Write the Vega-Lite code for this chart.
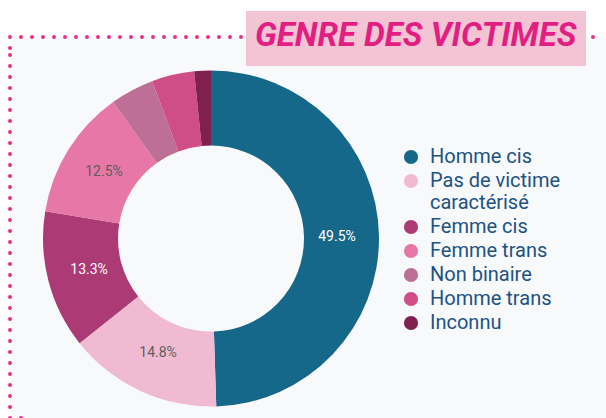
{
  "$schema": "https://vega.github.io/schema/vega-lite/v6.json",
  "width": 596,
  "height": 381,
  "autosize": {"type": "none"},
  "padding": {"left": 10, "top": 37, "right": 0, "bottom": 0},
  "background": "#FFFFFF",
  "view": {
    "fill": "#F8F9FB",
    "stroke": "#E5308A",
    "strokeWidth": 4,
    "strokeCap": "round",
    "strokeDash": [0,11,0,11,0,11,0,11,0,11,0,11,0,11,0,11,0,11,0,11,0,11,0,11,0,11,0,11,0,11,0,11,0,11,0,11,0,11,0,11,0,11,0,11,0,11,0,11,0,11,0,11,0,11,0,11,0,11,0,11,0,11,0,11,0,11,0,11,0,11,0,11,0,11,0,11,0,11,0,11,0,11,0,11,0,11,0,11,0,11,0,11,0,11,0,11,0,11,0,11,0,11,0,11,0,11,0,979,0,11,0,11,0,11,0,11,0,11,0,11,0,11,0,11,0,11,0,11,0,11,0,11,0,11,0,11,0,11,0,11,0,11,0,11,0,11,0,11,0,11,0,11,0,11,0,11,0,11,0,11,0,11,0,11,0,11,0,11,0,11,0,11,0,11,0,11,0,7]
  },
  "config": {
    "text": {"font": "Roboto"}
  },
  "data": {
    "values": [
      {"genre": "Homme cis", "part": 0.495},
      {"genre": "Pas de victime caractérisé", "part": 0.148},
      {"genre": "Femme cis", "part": 0.133},
      {"genre": "Femme trans", "part": 0.125},
      {"genre": "Non binaire", "part": 0.042},
      {"genre": "Homme trans", "part": 0.041},
      {"genre": "Inconnu", "part": 0.016}
    ]
  },
  "layer": [
    {
      "mark": {"type": "arc", "innerRadius": 93, "outerRadius": 168, "xOffset": -97, "yOffset": 11},
      "encoding": {
        "theta": {"field": "part", "type": "quantitative", "stack": true},
        "order": {"field": "part", "type": "quantitative", "sort": "descending"},
        "color": {
          "field": "genre",
          "type": "nominal",
          "sort": null,
          "scale": {
            "domain": ["Homme cis", "Pas de victime caractérisé", "Femme cis", "Femme trans", "Non binaire", "Homme trans", "Inconnu"],
            "range": ["#156889", "#F0BAD2", "#AC3A74", "#E677A6", "#BD6F95", "#D04E87", "#80204E"]
          },
          "legend": {
            "title": null,
            "orient": "none",
            "legendX": 391,
            "legendY": 110,
            "padding": 0,
            "symbolType": "circle",
            "symbolSize": 200,
            "symbolStrokeWidth": 0,
            "labelFont": "Roboto",
            "labelFontSize": 20,
            "labelColor": "#1D5283",
            "labelOffset": 9,
            "rowPadding": 4,
            "labelLimit": 300,
            "labelExpr": "datum.label == 'Pas de victime caractérisé' ? ['Pas de victime', 'caractérisé'] : datum.label"
          }
        },
        "opacity": {
          "datum": "GENRE DES VICTIMES",
          "type": "nominal",
          "scale": {"range": [1, 1]},
          "legend": {
            "title": "GENRE DES VICTIMES",
            "orient": "none",
            "legendX": 236,
            "legendY": -26,
            "fillColor": "#F2C4D4",
            "padding": 9,
            "titleFont": "Roboto",
            "titleFontSize": 33,
            "titleFontWeight": "bold",
            "titleFontStyle": "italic",
            "titleColor": "#E31E82",
            "titlePadding": 0,
            "titleLimit": 600,
            "symbolSize": 0,
            "symbolOpacity": 0,
            "labelExpr": "''",
            "labelFontSize": 1
          }
        }
      }
    },
    {
      "mark": {"type": "text", "radius": 126, "xOffset": -97, "yOffset": 11, "font": "Roboto", "fontSize": 14},
      "encoding": {
        "theta": {"field": "part", "type": "quantitative", "stack": true},
        "order": {"field": "part", "type": "quantitative", "sort": "descending"},
        "text": {"condition": {"test": "datum.part >= 0.1", "field": "part", "format": ".1%"}, "value": ""},
        "fill": {"condition": {"test": "datum.genre === 'Homme cis' || datum.genre === 'Femme cis'", "value": "#FFFFFF"}, "value": "#5E5E5E"}
      }
    }
  ]
}
